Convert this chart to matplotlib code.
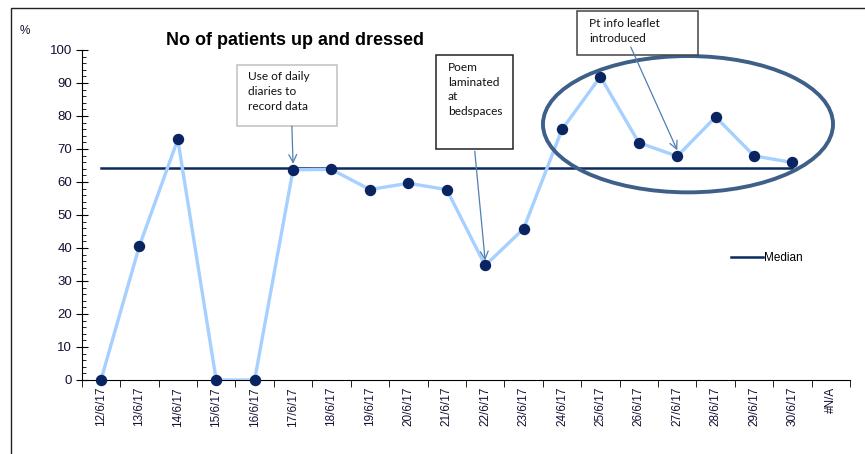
import matplotlib
matplotlib.use("Agg")
import matplotlib.pyplot as plt
from matplotlib.patches import Ellipse, Rectangle
from matplotlib.lines import Line2D

dates = ["12/6/17", "13/6/17", "14/6/17", "15/6/17", "16/6/17", "17/6/17",
         "18/6/17", "19/6/17", "20/6/17", "21/6/17", "22/6/17", "23/6/17",
         "24/6/17", "25/6/17", "26/6/17", "27/6/17", "28/6/17", "29/6/17",
         "30/6/17", "#N/A"]
pct_up = [0, 40.6, 72.9, 0, 0, 63.7, 63.8, 57.7, 59.6, 57.7, 34.7, 45.8,
          75.9, 91.9, 71.9, 67.8, 79.7, 67.9, 65.9]
median = 64.3

plt.rcParams["font.family"] = "Liberation Sans"

fig = plt.figure(figsize=(8.65, 4.54), dpi=100)
ax = fig.add_axes([0.0945, 0.163, 0.8883, 0.727])

x = list(range(len(pct_up)))
ax.plot(x, pct_up, color="#a6d0ff", lw=2.4, zorder=3)
ax.plot(x, pct_up, "o", color="#0a2462", ms=7.2, zorder=4, clip_on=False)
ax.plot([x[0], x[-1]], [median, median], color="#0b2a5e", lw=1.8, zorder=2)

ax.set_xlim(-0.5, len(dates) - 0.5)
ax.set_ylim(0, 100)
ax.set_xticks(range(len(dates)))
ax.set_xticklabels(dates, rotation=90, fontsize=8.5, color="#111133")
ax.set_xticks([i - 0.5 for i in range(len(dates) + 1)], minor=True)
ax.tick_params(axis="x", which="major", length=0, pad=5)
ax.tick_params(axis="x", which="minor", length=5, direction="out")
ax.set_yticks(range(0, 101, 10))
ax.set_yticks(range(0, 101, 2), minor=True)
ax.tick_params(axis="y", which="major", length=8, direction="inout", labelsize=9.5,
               labelcolor="#111133", pad=3)
ax.tick_params(axis="y", which="minor", length=3, direction="in")
for s in ["top", "right"]:
    ax.spines[s].set_visible(False)

fig.text(0.341, 0.91, "No of patients up and dressed", ha="center", va="center",
         fontsize=13, fontweight="bold")
fig.text(0.023, 0.925, "%", fontsize=8.5, color="#111133")

# highlight ellipse
ax.add_patch(Ellipse((15.28, 77.5), 7.55, 41.3, fill=False, ec="#3d5f88", lw=2.8,
                     zorder=5, clip_on=False))

# annotation boxes
boxes = [
    ((3.53, 76.9), 2.61, 18.5, "#c0c0c0", 3.82, 93.6, "Use of daily\ndiaries to\nrecord data"),
    ((8.72, 69.9), 2.0, 28.6, "#222222", 9.03, 96.4, "Poem\nlaminated\nat\nbedspaces"),
    ((12.39, 98.5), 3.15, 13.4, "#444444", 12.7, 109.7, "Pt info leaflet\nintroduced"),
]
for (bx, by), bw, bh, ec, tx, ty, label in boxes:
    ax.add_patch(Rectangle((bx, by), bw, bh, fill=True, fc="white", ec=ec, lw=1.1,
                           clip_on=False, zorder=6))
    ax.text(tx, ty, label, fontsize=8.6, family="Lato", va="top", ha="left",
            linespacing=1.42, color="#111111", zorder=7, clip_on=False)

arrows = [((4.97, 76.9), (5.0, 65.5)), ((9.73, 69.3), (10.0, 36.2)),
          ((13.79, 100.9), (15.0, 69.6))]
for start, end in arrows:
    ax.annotate("", xy=end, xytext=start, zorder=6,
                arrowprops=dict(arrowstyle="->", color="#4f7fb5", lw=0.9,
                                shrinkA=0, shrinkB=0, mutation_scale=14),
                annotation_clip=False)

handle = Line2D([], [], color="#0b2a5e", lw=1.8)
fig.legend([handle], ["Median"], loc="center left", bbox_to_anchor=(0.845, 0.432),
           frameon=False, fontsize=8.5, handlelength=2.7, handletextpad=0.1,
           borderpad=0, borderaxespad=0)

# outer frame
fig.add_artist(Rectangle((11 / 865, -0.2), 2, 1.2 - 8 / 454, transform=fig.transFigure,
                         fill=False, ec="#222222", lw=1))

fig.savefig("out.png", dpi=100)
